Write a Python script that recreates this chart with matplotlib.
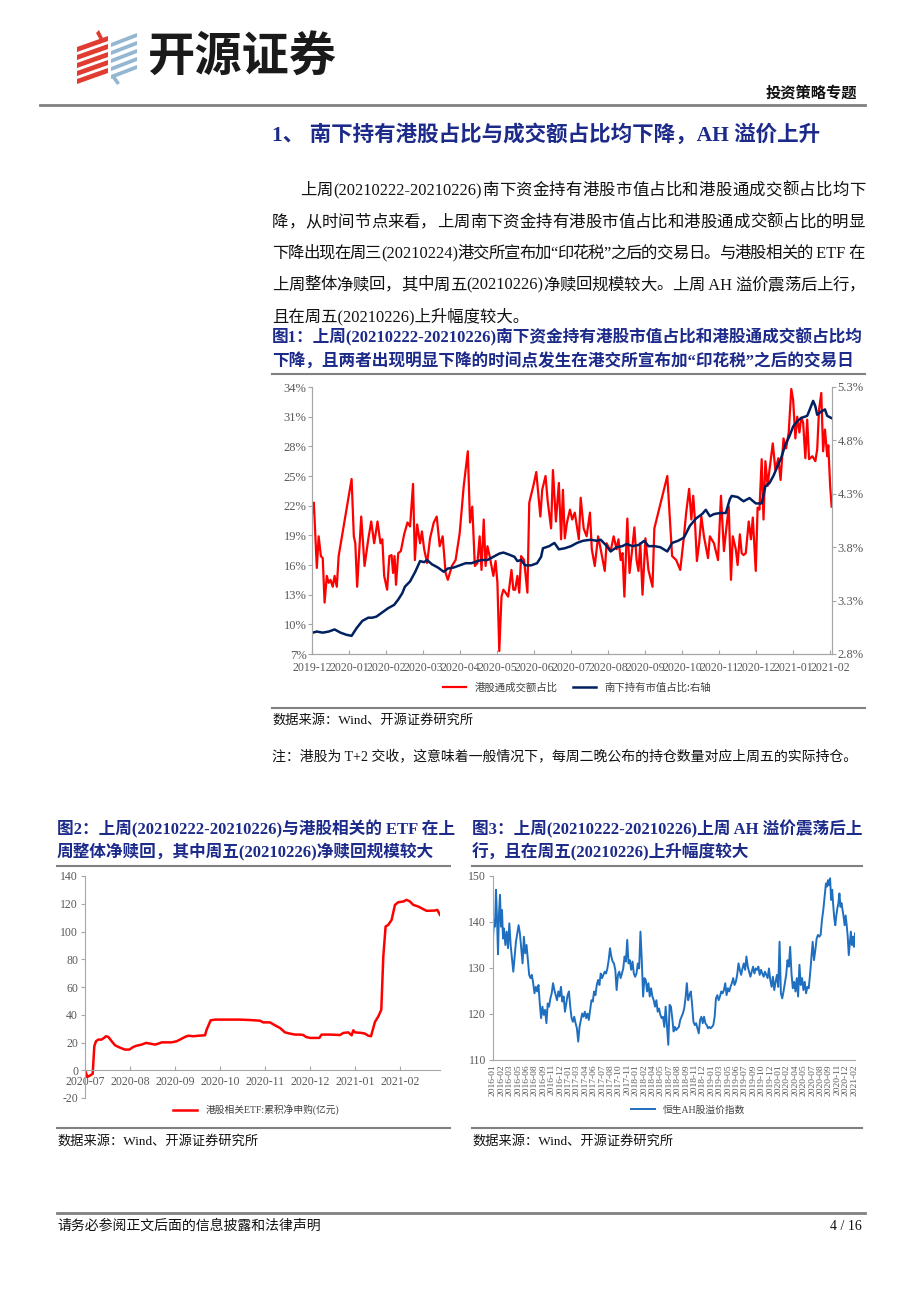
import numpy as np
import matplotlib
matplotlib.use('Agg')
import matplotlib.pyplot as plt
from matplotlib.lines import Line2D
from matplotlib.patches import Polygon

plt.rcParams['axes.unicode_minus'] = False

W, H = 920, 1301
SERIF = ['Liberation Serif', 'Noto Sans CJK SC']
NAVY = '#1C2A8A'
GRAY = '#808080'

# ---------------- data ----------------
# chart 1: x in months since 2019-12 (monthly category axis)
months_1 = ['2019-12', '2020-01', '2020-02', '2020-03', '2020-04', '2020-05', '2020-06',
            '2020-07', '2020-08', '2020-09', '2020-10', '2020-11', '2020-12', '2021-01', '2021-02']
red_x = [0.02, 0.05, 0.13, 0.18, 0.24, 0.29, 0.34, 0.40, 0.45, 0.50,
         0.56, 0.61, 0.67, 0.72, 1.07, 1.13, 1.17, 1.22, 1.33, 1.42,
         1.52, 1.60, 1.68, 1.77, 1.85, 1.90, 1.95, 2.03, 2.09, 2.15,
         2.19, 2.23, 2.27, 2.33, 2.40, 2.49, 2.58, 2.65, 2.73, 2.78,
         2.84, 2.92, 2.97, 3.03, 3.11, 3.19, 3.29, 3.37, 3.45, 3.53,
         3.61, 3.67, 3.78, 3.88, 3.99, 4.10, 4.21, 4.27, 4.33, 4.40,
         4.47, 4.53, 4.58, 4.64, 4.69, 4.74, 4.80, 4.85, 4.90, 4.96,
         5.01, 5.06, 5.12, 5.17, 5.23, 5.30, 5.39, 5.44, 5.49, 5.55,
         5.60, 5.65, 5.73, 5.82, 5.87, 5.98, 6.06, 6.17, 6.22, 6.31,
         6.37, 6.46, 6.51, 6.59, 6.67, 6.73, 6.78, 6.83, 6.89, 6.97,
         7.03, 7.10, 7.21, 7.26, 7.34, 7.42, 7.51, 7.56, 7.64, 7.73,
         7.80, 7.91, 7.96, 8.07, 8.15, 8.23, 8.28, 8.34, 8.39, 8.44,
         8.52, 8.58, 8.64, 8.71, 8.77, 8.82, 8.87, 8.93, 9.01, 9.09,
         9.20, 9.25, 9.60, 9.73, 9.84, 9.95, 10.05, 10.11, 10.19, 10.25,
         10.30, 10.34, 10.40, 10.46, 10.52, 10.59, 10.70, 10.75, 10.86, 10.97,
         11.05, 11.13, 11.18, 11.26, 11.32, 11.37, 11.45, 11.50, 11.56, 11.61,
         11.66, 11.72, 11.80, 11.86, 11.91, 11.99, 12.04, 12.09, 12.15, 12.20,
         12.25, 12.31, 12.36, 12.45, 12.52, 12.60, 12.66, 12.74, 12.81, 12.88,
         12.95, 13.00, 13.06, 13.11, 13.17, 13.22, 13.27, 13.33, 13.38, 13.43,
         13.52, 13.60, 13.65, 13.70, 13.76, 13.81, 13.86, 13.92, 13.95, 14.00,
         14.04]
red_y = [21.3, 22.3, 15.7, 18.9, 16.9, 16.7, 12.2, 14.9, 14.2, 14.5,
         13.8, 14.9, 13.8, 16.9, 24.7, 18.9, 18.2, 13.8, 20.9, 15.9,
         18.6, 20.4, 18.2, 20.4, 18.2, 18.6, 14.9, 13.5, 16.9, 17.0,
         15.2, 16.9, 14.0, 17.2, 17.4, 19.1, 20.3, 19.9, 24.2, 16.5,
         20.1, 18.2, 19.4, 17.6, 16.2, 18.7, 20.3, 20.9, 17.9, 18.9,
         15.2, 14.5, 15.9, 16.5, 19.2, 24.0, 27.5, 20.3, 21.9, 15.9,
         16.2, 18.9, 15.5, 20.6, 15.9, 17.9, 16.9, 15.9, 14.9, 16.4,
         14.2, 7.3, 12.8, 13.5, 13.2, 12.8, 15.5, 13.5, 13.5, 14.9,
         13.2, 16.9, 16.5, 13.2, 22.3, 24.0, 25.4, 20.9, 23.6, 25.0,
         22.4, 19.7, 25.6, 20.4, 24.3, 18.6, 23.6, 18.7, 20.3, 21.6,
         20.6, 21.3, 18.6, 22.8, 19.7, 18.9, 21.3, 17.6, 15.9, 18.9,
         17.6, 15.4, 18.2, 17.4, 18.9, 17.6, 18.6, 16.5, 17.2, 12.8,
         20.7, 15.2, 17.2, 19.8, 16.5, 15.4, 18.2, 13.0, 18.7, 15.5,
         13.8, 19.7, 25.0, 16.9, 16.5, 15.5, 18.9, 21.3, 23.7, 20.6,
         23.0, 20.9, 16.4, 18.2, 20.9, 18.9, 16.7, 18.9, 18.2, 16.5,
         23.0, 17.4, 19.2, 21.9, 14.5, 18.9, 17.6, 16.0, 19.1, 17.2,
         17.0, 17.2, 20.4, 18.6, 20.8, 15.4, 21.8, 21.6, 26.7, 20.6,
         26.5, 24.0, 25.6, 28.3, 25.6, 26.8, 24.6, 28.8, 27.8, 29.4,
         33.8, 32.7, 28.8, 31.0, 29.4, 30.9, 30.4, 26.8, 30.7, 26.7,
         27.0, 26.5, 27.7, 31.7, 33.4, 27.5, 29.7, 27.0, 28.1, 24.0,
         21.9]
blue_x = [0.02, 0.13, 0.29, 0.45, 0.61, 0.77, 0.93, 1.07, 1.20, 1.36,
          1.52, 1.63, 1.74, 1.90, 2.06, 2.22, 2.33, 2.44, 2.51, 2.65,
          2.79, 2.92, 3.03, 3.11, 3.24, 3.40, 3.56, 3.67, 3.83, 3.99,
          4.15, 4.31, 4.47, 4.58, 4.74, 4.90, 5.06, 5.17, 5.33, 5.47,
          5.55, 5.65, 5.76, 5.92, 6.08, 6.19, 6.24, 6.41, 6.55, 6.67,
          6.83, 7.00, 7.16, 7.32, 7.53, 7.69, 7.80, 7.94, 8.07, 8.23,
          8.39, 8.50, 8.66, 8.82, 8.98, 9.09, 9.25, 9.41, 9.60, 9.73,
          9.89, 10.05, 10.21, 10.38, 10.54, 10.64, 10.75, 10.86, 11.02, 11.18,
          11.29, 11.34, 11.50, 11.66, 11.82, 11.99, 12.15, 12.25, 12.36, 12.47,
          12.58, 12.68, 12.79, 12.90, 13.00, 13.11, 13.22, 13.38, 13.45, 13.54,
          13.60, 13.65, 13.76, 13.86, 13.92, 14.03]
blue_y = [3.00, 3.01, 3.00, 3.01, 3.03, 3.00, 2.98, 2.97, 3.04, 3.11,
          3.14, 3.14, 3.15, 3.19, 3.23, 3.26, 3.31, 3.37, 3.43, 3.48,
          3.57, 3.67, 3.66, 3.68, 3.64, 3.61, 3.57, 3.60, 3.61, 3.63,
          3.65, 3.65, 3.67, 3.68, 3.68, 3.71, 3.74, 3.75, 3.73, 3.71,
          3.67, 3.68, 3.63, 3.63, 3.65, 3.71, 3.79, 3.81, 3.84, 3.78,
          3.79, 3.81, 3.84, 3.86, 3.87, 3.86, 3.87, 3.82, 3.76, 3.80,
          3.81, 3.83, 3.81, 3.82, 3.86, 3.81, 3.81, 3.80, 3.76, 3.84,
          3.86, 3.89, 4.00, 4.07, 4.11, 4.15, 4.09, 4.11, 4.12, 4.12,
          4.25, 4.28, 4.27, 4.23, 4.26, 4.21, 4.21, 4.37, 4.40, 4.47,
          4.56, 4.64, 4.76, 4.84, 4.93, 4.98, 5.01, 5.03, 5.09, 5.17,
          5.12, 5.04, 5.07, 5.09, 5.03, 5.01]

# chart 2: x in months since 2020-07
months_2 = ['2020-07', '2020-08', '2020-09', '2020-10', '2020-11', '2020-12', '2021-01', '2021-02']
etf_x = [0.015, 0.052, 0.111, 0.170, 0.207, 0.244, 0.296, 0.370, 0.422, 0.467,
         0.519, 0.593, 0.667, 0.741, 0.815, 0.889, 0.985, 1.074, 1.148, 1.259,
         1.356, 1.444, 1.556, 1.630, 1.704, 1.815, 1.926, 2.037, 2.111, 2.222,
         2.296, 2.407, 2.519, 2.667, 2.704, 2.793, 2.889, 3.148, 3.444, 3.667,
         3.889, 3.963, 4.111, 4.222, 4.333, 4.444, 4.556, 4.667, 4.778, 4.852,
         4.911, 5.000, 5.207, 5.259, 5.444, 5.667, 5.741, 5.852, 5.926, 5.963,
         6.000, 6.148, 6.222, 6.296, 6.356, 6.444, 6.519, 6.585, 6.630, 6.681,
         6.741, 6.815, 6.889, 6.963, 7.074, 7.148, 7.222, 7.296, 7.407, 7.519,
         7.593, 7.778, 7.830, 7.889]
etf_y = [-1.2, -4.8, -3.8, -2.6, 17.3, 20.9, 22.1, 22.1, 23.3, 24.5,
         24.0, 20.9, 18.0, 16.8, 15.8, 14.9, 14.9, 16.8, 17.7, 18.5,
         19.7, 19.2, 18.5, 19.2, 20.1, 20.1, 20.1, 20.9, 22.1, 24.0,
         24.9, 24.5, 24.9, 25.2, 29.3, 36.0, 36.5, 36.5, 36.5, 36.2,
         35.7, 34.5, 34.5, 32.4, 30.5, 27.3, 26.4, 25.7, 25.7, 25.4,
         24.0, 23.3, 23.3, 25.7, 25.7, 25.4, 26.9, 27.3, 25.2, 28.8,
         27.3, 26.9, 26.4, 24.9, 24.5, 34.8, 38.8, 43.6, 82.0, 103.6,
         104.8, 108.4, 119.2, 121.1, 121.6, 122.8, 121.6, 119.2, 118.0, 116.1,
         114.9, 115.1, 115.6, 112.0]

# chart 3: category labels every ~4 weeks, values read weekly-ish
ah_labels = ['2016-01', '2016-02', '2016-03', '2016-05', '2016-06', '2016-08', '2016-09', '2016-11',
             '2016-12', '2017-01', '2017-03', '2017-04', '2017-06', '2017-07', '2017-08', '2017-10',
             '2017-11', '2018-01', '2018-02', '2018-04', '2018-05', '2018-07', '2018-08', '2018-09',
             '2018-11', '2018-12', '2019-01', '2019-03', '2019-05', '2019-06', '2019-07', '2019-09',
             '2019-10', '2019-12', '2020-01', '2020-02', '2020-04', '2020-05', '2020-07', '2020-08',
             '2020-09', '2020-11', '2020-12', '2021-02']
ah_values = [136.4, 140.4, 139.0, 147.0, 140.8, 133.0, 141.9, 145.9, 139.0, 142.6, 136.4, 138.6,
             135.0, 137.9, 134.3, 139.7, 135.0, 132.1, 129.2, 132.5, 135.7, 137.5, 139.3, 137.5,
             134.3, 131.0, 136.8, 133.2, 135.0, 131.7, 128.5, 127.8, 128.5, 126.7, 124.5, 125.9,
             124.9, 126.3, 122.3, 119.1, 121.6, 119.8, 120.9, 118.0, 122.3, 121.6, 123.4, 124.5,
             126.7, 125.2, 124.1, 123.0, 124.9, 123.8, 125.9, 122.7, 123.8, 120.5, 122.3, 124.1,
             124.9, 121.6, 119.1, 118.3, 119.4, 118.0, 116.9, 114.0, 117.2, 118.7, 120.1, 119.4,
             120.5, 119.1, 120.1, 118.7, 120.9, 123.0, 122.7, 124.9, 124.1, 126.3, 127.4, 126.3,
             128.8, 127.8, 128.5, 129.2, 128.8, 129.9, 131.7, 134.3, 132.5, 131.4, 131.0, 129.6,
             125.2, 128.5, 129.2, 127.8, 128.8, 129.9, 132.5, 131.4, 136.1, 131.0, 131.7, 129.6,
             131.4, 128.8, 128.1, 128.8, 131.0, 129.9, 137.9, 131.7, 123.8, 127.8, 127.4, 124.9,
             126.7, 123.8, 125.6, 123.8, 123.0, 121.6, 123.0, 120.5, 121.2, 119.8, 119.1, 119.4,
             117.2, 121.6, 117.6, 113.3, 122.0, 121.6, 119.1, 116.2, 117.2, 116.5, 116.9, 117.2,
             118.7, 119.4, 120.1, 121.2, 123.4, 126.7, 123.0, 124.1, 124.9, 122.0, 118.3, 117.6,
             118.0, 116.9, 115.8, 118.7, 119.4, 118.0, 119.4, 118.0, 117.6, 116.9, 117.2, 116.9,
             117.2, 117.6, 119.4, 123.4, 124.1, 123.0, 123.8, 124.9, 124.5, 125.2, 126.7, 124.1,
             125.6, 124.9, 125.9, 126.7, 127.8, 126.3, 127.0, 128.5, 131.0, 129.6, 128.5, 129.9,
             131.0, 129.6, 132.5, 130.3, 129.2, 128.1, 129.2, 130.3, 128.8, 129.9, 129.6, 130.3,
             128.5, 129.6, 128.8, 128.1, 129.2, 128.5, 127.8, 129.9, 127.4, 125.9, 128.1, 125.2,
             127.0, 128.5, 125.9, 135.7, 124.5, 123.4, 124.9, 126.7, 128.5, 131.7, 130.3, 134.6,
             128.8, 125.6, 127.0, 124.9, 127.8, 123.8, 130.7, 126.3, 127.8, 125.2, 127.0, 124.5,
             125.9, 125.6, 128.5, 132.1, 135.7, 131.7, 133.9, 136.4, 137.2, 136.8, 137.2, 140.4,
             142.6, 145.5, 148.4, 147.7, 149.1, 148.0, 149.5, 144.8, 147.0, 143.7, 140.9, 139.3,
             141.4, 143.0, 144.1, 146.2, 143.3, 144.1, 142.6, 141.2, 139.3, 141.4, 139.3, 136.8,
             132.8, 135.4, 137.9, 135.0, 136.8, 134.6, 137.5]

body_lines = [
    '上周(20210222-20210226)南下资金持有港股市值占比和港股通成交额占比均下',
    '降，从时间节点来看，上周南下资金持有港股市值占比和港股通成交额占比的明显',
    '下降出现在周三(20210224)港交所宣布加“印花税”之后的交易日。与港股相关的 ETF 在',
    '上周整体净赎回，其中周五(20210226)净赎回规模较大。上周 AH 溢价震荡后上行，',
    '且在周五(20210226)上升幅度较大。',
]

# ---------------- page ----------------
fig = plt.figure(figsize=(W / 100, H / 100), dpi=100)
renderer = fig.canvas.get_renderer()


def put(x, y, s, size, **kw):
    kw.setdefault('family', SERIF)
    kw.setdefault('va', 'center')
    return fig.text(x / W, 1 - y / H, s, fontsize=size, **kw)


def put_justified(x0, x1, y, s, size, **kw):
    # split into CJK chars and runs of ascii, then spread them over x0..x1
    tokens = []
    for ch in s:
        if ch.isascii() and tokens and tokens[-1][-1].isascii():
            tokens[-1] += ch
        else:
            tokens.append(ch)
    arts, widths = [], []
    for tok in tokens:
        t = put(x0, y, tok, size, **kw)
        arts.append(t)
        widths.append(t.get_window_extent(renderer).width)
    gap = (x1 - x0 - sum(widths)) / (len(tokens) - 1)
    x = x0
    for t, w in zip(arts, widths):
        t.set_x(x / W)
        x += w + gap


def rule(x0, x1, y, lw=1.5, color=GRAY):
    fig.add_artist(Line2D([x0 / W, x1 / W], [1 - y / H, 1 - y / H], color=color, lw=lw))


def box(l, t, r, b):
    return fig.add_axes([l / W, 1 - b / H, (r - l) / W, (b - t) / H])


# logo
lg = box(70, 25, 145, 90)
lg.set_xlim(70, 145)
lg.set_ylim(90, 25)
lg.axis('off')
for k in range(5):
    y0 = 47 + k * 8
    lg.add_patch(Polygon([(77, y0), (108, y0 - 11), (108, y0 - 6), (77, y0 + 5)], color='#E03C31', lw=0))
    y1 = 43 + k * 8
    lg.add_patch(Polygon([(111, y1), (137, y1 - 10), (137, y1 - 6), (111, y1 + 4)], color='#93B7D1', lw=0))
lg.add_patch(Polygon([(96, 33), (99, 30), (104, 40), (101, 42)], color='#E03C31', lw=0))
lg.add_patch(Polygon([(112, 78), (115, 76), (120, 83), (117, 85)], color='#93B7D1', lw=0))

put(147, 57, '开源证券', 34, family=['Noto Sans CJK SC'], weight='heavy', color='#1A1A1A')
put(857, 93, '投资策略专题', 11, ha='right', weight='bold', family=['Noto Sans CJK SC'], color='#111111')
rule(40, 865, 105, lw=2)

put(272, 135, '1、 南下持有港股占比与成交额占比均下降，AH 溢价上升', 15.5, weight='bold', color=NAVY)

for i, line in enumerate(body_lines):
    y = 191 + i * 31.5
    if i == 0:
        put_justified(300, 865, y, line, 11.8, color='#111111')
    elif i < 4:
        put_justified(272, 865, y, line, 11.8, color='#111111')
    else:
        put(272, y, line, 11.8, color='#111111')

put(272, 337, '图1：上周(20210222-20210226)南下资金持有港股市值占比和港股通成交额占比均', 12,
    weight='bold', color=NAVY)
put(272, 362, '下降，且两者出现明显下降的时间点发生在港交所宣布加“印花税”之后的交易日', 12,
    weight='bold', color=NAVY)
rule(272, 865, 374)

# ---------------- chart 1 ----------------
tick_col = '#595959'
spine_col = '#A6A6A6'
ax1 = box(312, 387, 832, 654)
l1, = ax1.plot(red_x, red_y, color='#FF0000', lw=1.6, label='港股通成交额占比')
ax1.set_xlim(0, 14.05)
ax1.set_ylim(7, 34)
ax1.set_yticks(range(7, 35, 3))
ax1.set_yticklabels([f'{v}%' for v in range(7, 35, 3)])
ax1.set_xticks(range(len(months_1)))
ax1.set_xticklabels(months_1)
ax2 = ax1.twinx()
l2, = ax2.plot(blue_x, blue_y, color='#002060', lw=1.8, label='南下持有市值占比:右轴')
ax2.set_ylim(2.8, 5.3)
r_ticks = [2.8, 3.3, 3.8, 4.3, 4.8, 5.3]
ax2.set_yticks(r_ticks)
ax2.set_yticklabels([f'{v:.1f}%' for v in r_ticks])
for a in (ax1, ax2):
    a.spines['top'].set_visible(False)
    for s in ('left', 'right', 'bottom'):
        a.spines[s].set_color(spine_col)
        a.spines[s].set_linewidth(0.8)
    a.tick_params(axis='y', direction='out', length=3, color=spine_col, labelsize=9,
                  labelcolor=tick_col, pad=1)
    for t in a.get_yticklabels():
        t.set_family(SERIF)
ax1.tick_params(axis='x', direction='in', length=3, color=spine_col, labelsize=8.6, labelcolor=tick_col, pad=6)
for t in ax1.get_xticklabels():
    t.set_family(SERIF)
ax1.legend([l1, l2], [l1.get_label(), l2.get_label()], loc='center', ncol=2, frameon=False,
           bbox_to_anchor=(577 / W, 1 - 688 / H), bbox_transform=fig.transFigure,
           prop={'family': ['Noto Sans CJK SC'], 'size': 7.5}, handlelength=2.2,
           columnspacing=1.5, labelcolor='#404040')

rule(272, 865, 708)
put(272, 720, '数据来源：Wind、开源证券研究所', 9.5, color='#111111')
put(272, 756, '注：港股为 T+2 交收，这意味着一般情况下，每周二晚公布的持仓数量对应上周五的实际持仓。', 10,
    color='#111111')

# ---------------- captions for lower charts ----------------
put(57, 829, '图2：上周(20210222-20210226)与港股相关的 ETF 在上', 12, weight='bold', color=NAVY)
put(57, 852, '周整体净赎回，其中周五(20210226)净赎回规模较大', 12, weight='bold', color=NAVY)
put(472, 829, '图3：上周(20210222-20210226)上周 AH 溢价震荡后上', 12, weight='bold', color=NAVY)
put(472, 852, '行，且在周五(20210226)上升幅度较大', 12, weight='bold', color=NAVY)
rule(57, 450, 866)
rule(472, 862, 866)

# ---------------- chart 2 ----------------
ax3 = box(85, 876, 440, 1098)
l3, = ax3.plot(etf_x, etf_y, color='#FF0000', lw=1.8, label='港股相关ETF:累积净申购(亿元)')
ax3.set_xlim(0, 7.89)
ax3.set_ylim(-20, 140)
ax3.set_yticks(range(-20, 141, 20))
ax3.set_xticks(range(len(months_2)))
ax3.set_xticklabels(months_2)
ax3.spines['bottom'].set_position(('data', 0))
for s in ('top', 'right'):
    ax3.spines[s].set_visible(False)
for s in ('left', 'bottom'):
    ax3.spines[s].set_color(spine_col)
    ax3.spines[s].set_linewidth(0.8)
ax3.tick_params(axis='y', direction='out', length=3, color=spine_col, labelsize=8.5, labelcolor=tick_col, pad=2)
ax3.tick_params(axis='x', direction='in', length=3, color=spine_col, labelsize=8.5, labelcolor=tick_col, pad=4)
for t in ax3.get_xticklabels() + ax3.get_yticklabels():
    t.set_family(SERIF)
ax3.legend(handles=[l3], loc='center', frameon=False,
           bbox_to_anchor=(256 / W, 1 - 1110 / H), bbox_transform=fig.transFigure,
           prop={'family': SERIF, 'size': 7}, handlelength=2.5, labelcolor='#404040')

# ---------------- chart 3 ----------------
n_mid = len(ah_values) - 12 - 29
ah_x = np.concatenate([np.linspace(0, 1.31, 12), np.linspace(1.47, 39.48, n_mid),
                       np.linspace(39.64, 43.1, 29)])
ax4 = box(493, 876, 855, 1060)
l4, = ax4.plot(ah_x, ah_values, color='#1F6FC0', lw=1.4, label='恒生AH股溢价指数')
ax4.set_xlim(0, 43.1)
ax4.set_ylim(110, 150)
ax4.set_yticks(range(110, 151, 10))
ax4.set_xticks(range(len(ah_labels)))
ax4.set_xticklabels(ah_labels, rotation=90)
for s in ('top', 'right'):
    ax4.spines[s].set_visible(False)
for s in ('left', 'bottom'):
    ax4.spines[s].set_color(spine_col)
    ax4.spines[s].set_linewidth(0.8)
ax4.tick_params(axis='y', direction='out', length=3, color=spine_col, labelsize=8.5, labelcolor=tick_col, pad=2)
ax4.tick_params(axis='x', length=0, labelsize=6.8, labelcolor=tick_col, pad=3)
for t in ax4.get_xticklabels() + ax4.get_yticklabels():
    t.set_family(SERIF)
ax4.legend(handles=[l4], loc='center', frameon=False,
           bbox_to_anchor=(688 / W, 1 - 1110 / H), bbox_transform=fig.transFigure,
           prop={'family': SERIF, 'size': 7}, handlelength=2.5, labelcolor='#404040')

rule(57, 450, 1128)
rule(472, 862, 1128)
put(57, 1141, '数据来源：Wind、开源证券研究所', 9.5, color='#111111')
put(472, 1141, '数据来源：Wind、开源证券研究所', 9.5, color='#111111')

# ---------------- footer ----------------
rule(57, 865, 1213, lw=2)
put(57, 1226, '请务必参阅正文后面的信息披露和法律声明', 10, color='#111111')
put(862, 1226, '4 / 16', 10, ha='right', color='#111111')

fig.savefig('out.png', dpi=100)
